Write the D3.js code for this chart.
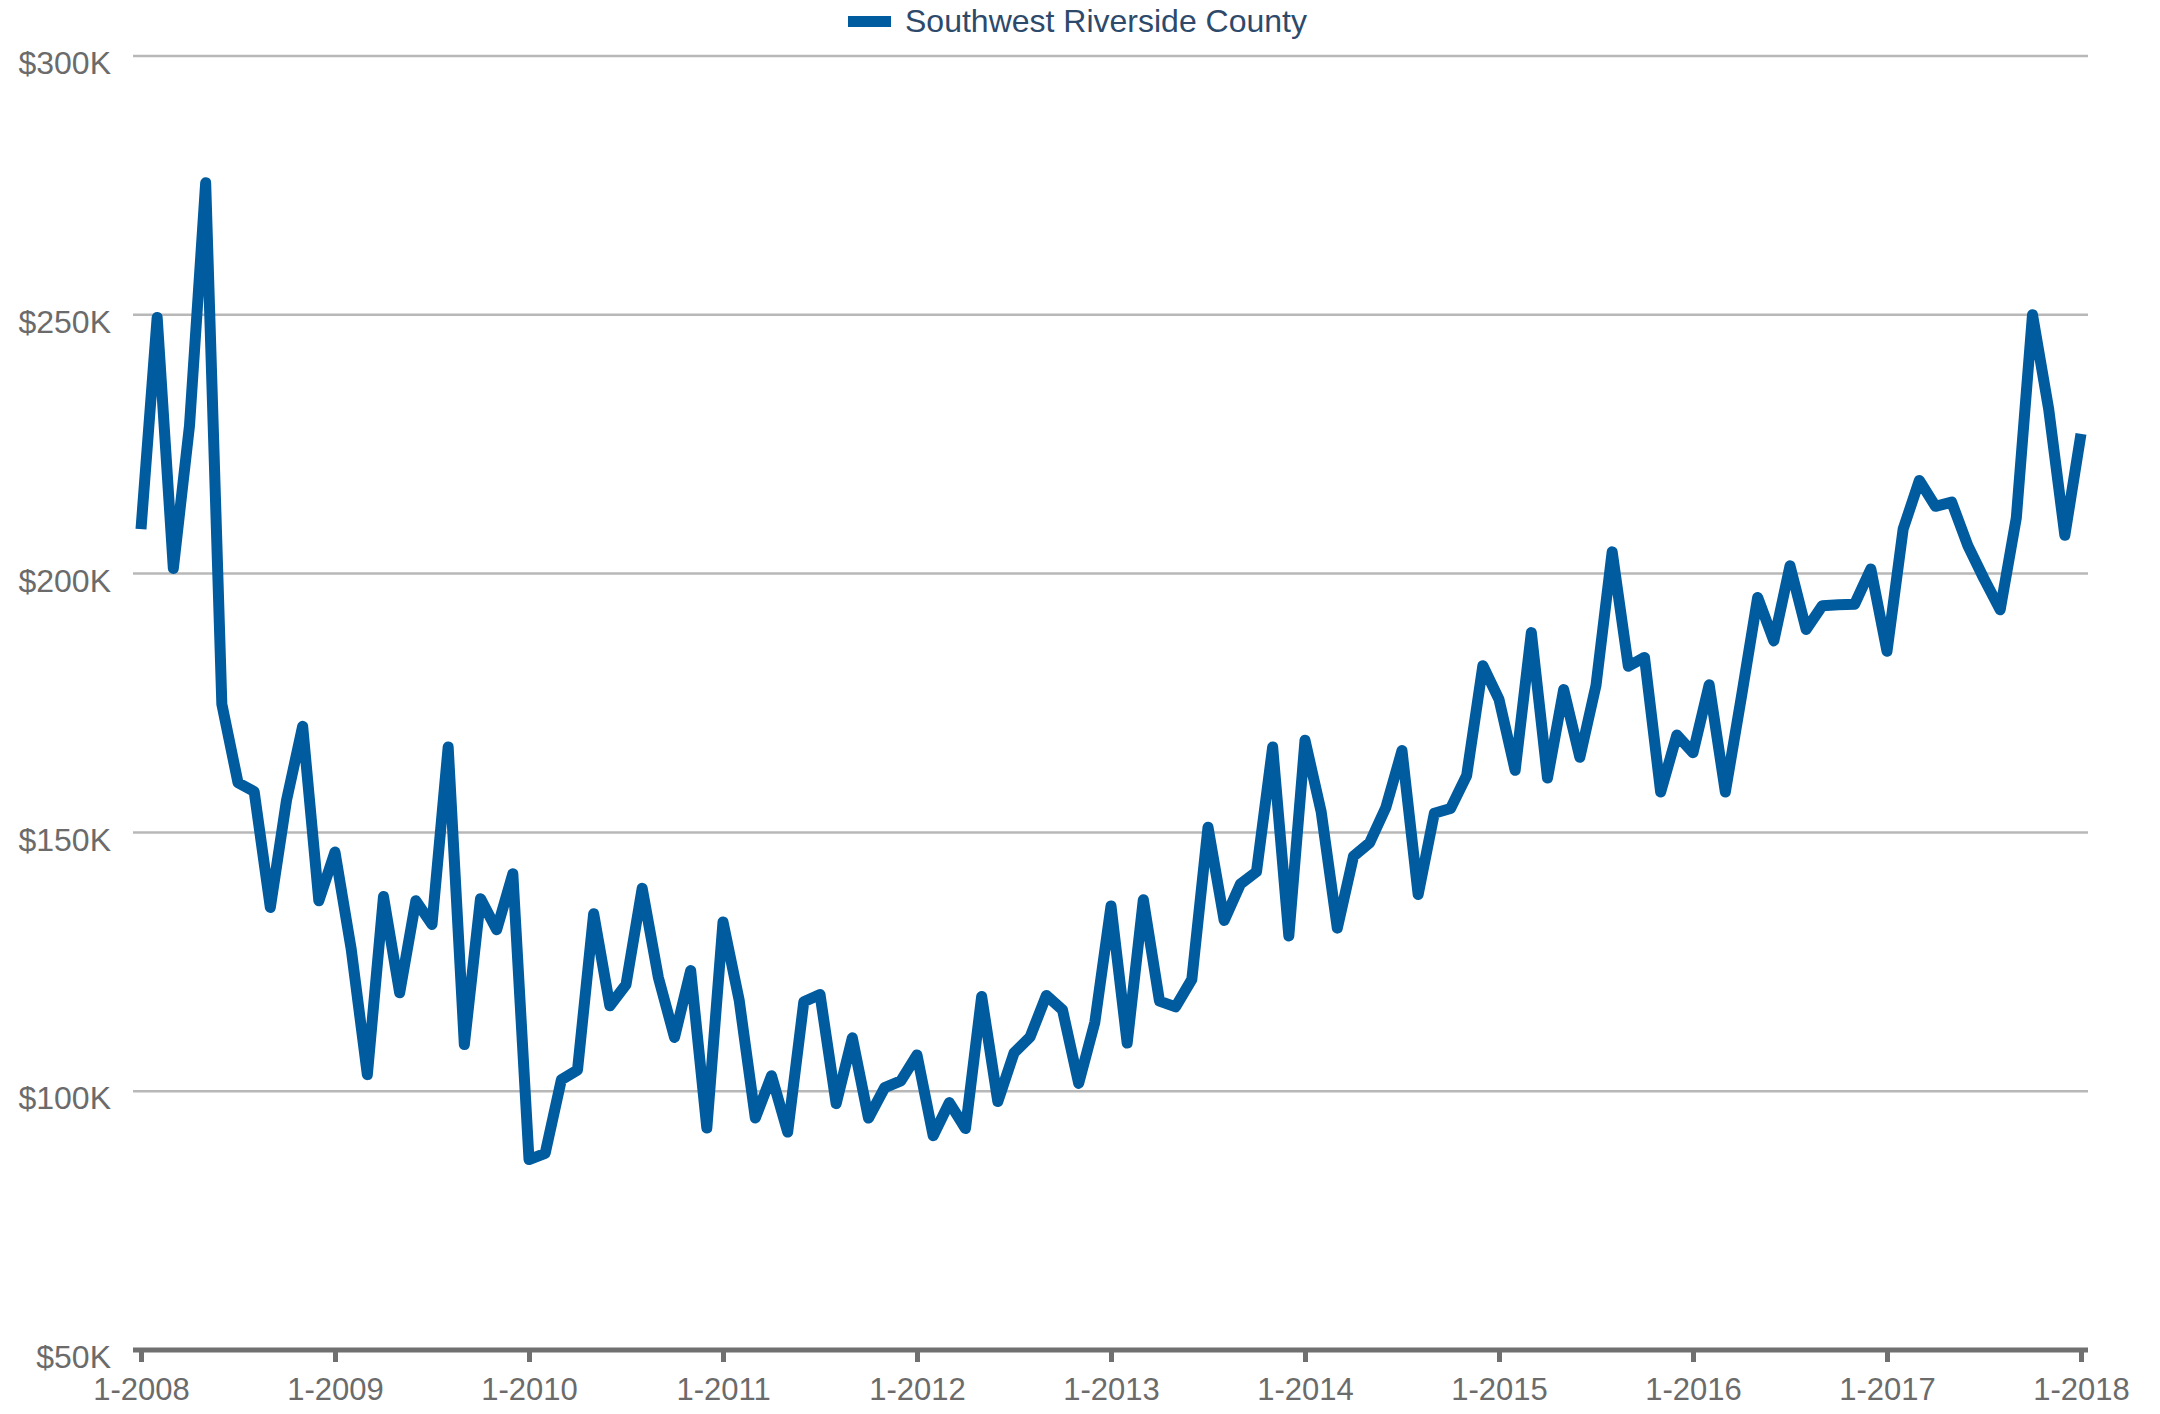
<!DOCTYPE html>
<html>
<head>
<meta charset="utf-8">
<script src="https://cdn.jsdelivr.net/npm/d3@7"></script>
<style>
  html, body { margin: 0; padding: 0; background: #ffffff; }
  svg { display: block; font-family: "Liberation Sans", Arial, Helvetica, sans-serif; }
</style>
</head>
<body>
<svg id="chart" width="2160" height="1414"></svg>
<script>
// ---- data ----
const seriesName = "Southwest Riverside County";
// median price, thousands of dollars, monthly from 1-2008 to 1-2018
const values = [
  208.6, 249.5, 201.0, 228.6, 275.5, 174.8, 159.6, 157.9, 135.5, 156.2, 170.5, 136.8,
  146.2, 127.5, 103.2, 137.6, 119.0, 136.8, 132.2, 166.5, 109.0, 137.2, 131.2, 142.0,
  86.8, 88.0, 102.2, 104.1, 134.3, 116.5, 120.6, 139.2, 122.0, 110.4, 123.3, 92.9,
  132.7, 117.6, 94.8, 103.0, 92.1, 117.3, 118.7, 97.6, 110.3, 94.8, 100.7, 102.0,
  107.0, 91.4, 97.8, 92.8, 118.3, 98.0, 107.4, 110.5, 118.5, 115.7, 101.5, 113.3,
  135.8, 109.3, 137.0, 117.4, 116.3, 121.6, 151.0, 133.0, 140.0, 142.4, 166.5, 130.0,
  167.8, 154.0, 131.5, 145.4, 148.0, 154.8, 165.8, 138.0, 153.7, 154.6, 161.0, 182.2,
  175.7, 162.0, 188.6, 160.5, 177.6, 164.5, 178.4, 204.2, 182.1, 183.8, 157.8, 168.8,
  165.4, 178.5, 157.8, 176.3, 195.4, 187.0, 201.5, 189.2, 193.8, 194.0, 194.1, 200.9,
  185.0, 208.6, 218.0, 213.0, 213.8, 205.4, 199.0, 193.0, 210.8, 250.0, 231.8, 207.4,
  227.0
];
const xTickIndex = [0, 12, 24, 36, 48, 60, 72, 84, 96, 108, 120];
const xTickLabels = ["1-2008", "1-2009", "1-2010", "1-2011", "1-2012", "1-2013",
                     "1-2014", "1-2015", "1-2016", "1-2017", "1-2018"];
const yTicks = [50, 100, 150, 200, 250, 300];
const yTickLabels = ["$50K", "$100K", "$150K", "$200K", "$250K", "$300K"];

// ---- layout ----
const svg = d3.select("#chart");
const lineColor = "#005b9f";
const axisColor = "#707070";
const gridColor = "#b8b8b8";
const labelColor = "#6b6b6b";

const plotLeft = 133, plotRight = 2088;
const x = d3.scaleLinear().domain([0, values.length - 1]).range([141, 2081]);
const y = d3.scaleLinear().domain([50, 300]).range([1350, 56]);

// gridlines (all except bottom axis)
const gridG = svg.append("g");
gridG.selectAll("line")
  .data(yTicks.filter(v => v !== 50))
  .join("line")
  .attr("x1", plotLeft).attr("x2", plotRight)
  .attr("y1", d => y(d)).attr("y2", d => y(d))
  .attr("stroke", gridColor).attr("stroke-width", 2.5);

// y axis labels
const yAxis = d3.axisLeft(y)
  .tickValues(yTicks)
  .tickFormat((d, i) => yTickLabels[i])
  .tickSize(0).tickPadding(0);
const yG = svg.append("g").attr("transform", `translate(${plotLeft - 22},0)`).call(yAxis);
yG.select(".domain").remove();
yG.selectAll("text")
  .attr("x", 0).attr("dy", "0.55em")
  .attr("font-size", 32)
  .attr("font-family", "'Liberation Sans', Arial, sans-serif")
  .attr("fill", labelColor);

// x axis
const xAxis = d3.axisBottom(x)
  .tickValues(xTickIndex)
  .tickFormat((d, i) => xTickLabels[i])
  .tickSize(12).tickSizeOuter(0).tickPadding(16);
const xG = svg.append("g").attr("transform", `translate(0,${y(50)})`).call(xAxis);
xG.select(".domain").remove();
xG.insert("line", ":first-child")
  .attr("x1", plotLeft).attr("x2", plotRight)
  .attr("y1", 0).attr("y2", 0)
  .attr("stroke", axisColor).attr("stroke-width", 5);
xG.selectAll(".tick line").attr("stroke", axisColor).attr("stroke-width", 5);
xG.selectAll(".tick text")
  .attr("font-size", 31)
  .attr("font-family", "'Liberation Sans', Arial, sans-serif")
  .attr("fill", labelColor);

// series line
const line = d3.line()
  .x((d, i) => x(i))
  .y(d => y(d));
svg.append("path")
  .datum(values)
  .attr("d", line)
  .attr("fill", "none")
  .attr("stroke", lineColor)
  .attr("stroke-width", 11)
  .attr("stroke-linejoin", "round")
  .attr("stroke-linecap", "butt");

// legend
const legend = svg.append("g").attr("transform", "translate(848,0)");
legend.append("rect")
  .attr("x", 0).attr("y", 16).attr("width", 43).attr("height", 11)
  .attr("fill", lineColor);
legend.append("text")
  .attr("x", 57).attr("y", 32)
  .attr("font-size", 32)
  .attr("font-family", "'Liberation Sans', Arial, sans-serif")
  .attr("fill", "#2e4a6b")
  .text(seriesName);
</script>
</body>
</html>
